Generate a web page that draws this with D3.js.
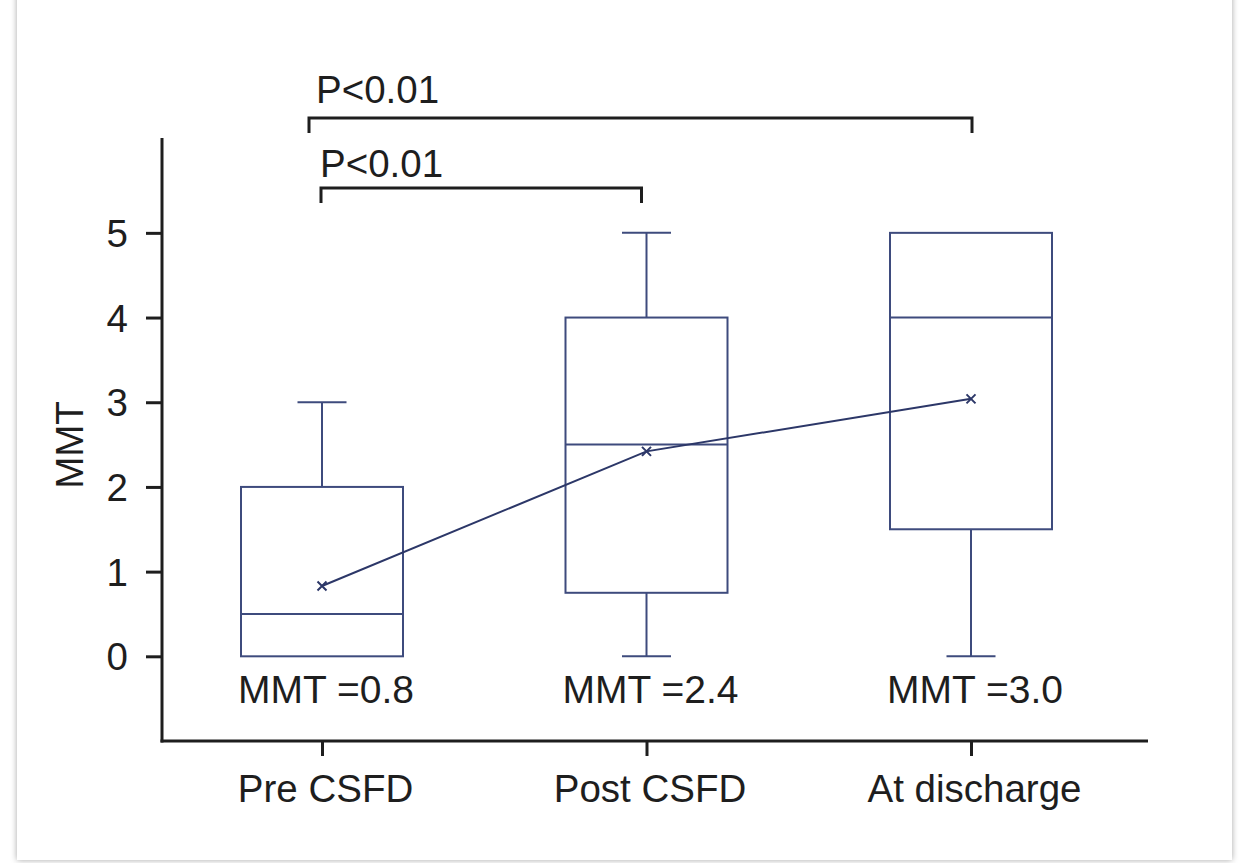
<!DOCTYPE html>
<html><head><meta charset="utf-8">
<script src="https://cdn.jsdelivr.net/npm/d3@7"></script>
<style>
html,body{margin:0;padding:0;background:#fff;}
svg{display:block;}
text{font-family:"Liberation Sans",Arial,Helvetica,sans-serif;fill:#1e1e1e;}
</style></head>
<body>
<svg id="chart" width="1243" height="863"></svg>
<script>
const categories = ["Pre CSFD", "Post CSFD", "At discharge"];
const mins    = [0, 0, 0];
const q1s     = [0, 0.75, 1.5];
const medians = [0.5, 2.5, 4];
const q3s     = [2, 4, 5];
const maxs    = [3, 5, 5];
const means   = [0.83, 2.42, 3.04];
const meanLabels = ["MMT =0.8", "MMT =2.4", "MMT =3.0"];
const yTicks = [0, 1, 2, 3, 4, 5];
const brackets = [
  {from: 0, to: 2, level: 6.356, label: "P<0.01", offL: -13, offR: 1, tdx: 7, tdy: -15},
  {from: 0, to: 1, level: 5.53, label: "P<0.01", offL: -1, offR: -5, tdx: -1, tdy: -11}
];

const svg = d3.select("#chart");
const defs = svg.append("defs");
const f = defs.append("filter").attr("id","sh").attr("x","-5%").attr("y","-5%").attr("width","110%").attr("height","110%");
f.append("feDropShadow").attr("dx",0).attr("dy",0).attr("stdDeviation",3).attr("flood-color","#000").attr("flood-opacity",0.35);
svg.append("rect").attr("x",17).attr("y",-10).attr("width",1215).attr("height",870).attr("fill","#fff").attr("filter","url(#sh)");

const x = d3.scalePoint().domain(categories).range([322, 971]);
const y = d3.scaleLinear().domain([-1, 6.12]).range([741, 138]);
const boxColor = "#3e4b7d";
const lineColor = "#2c3768";
const axisColor = "#1e1e1e";
const boxHalf = 81, capHalf = 24.5;
const fs = 38.5;

const data = categories.map((c,i)=>({c, min:mins[i], q1:q1s[i], med:medians[i], q3:q3s[i], max:maxs[i], mean:means[i], lab:meanLabels[i]}));

// y axis
const yAxis = d3.axisLeft(y).tickValues(yTicks).tickSize(16).tickPadding(18).tickFormat(d3.format("d"));
const gy = svg.append("g").attr("transform","translate(162,0)").call(yAxis);
gy.select(".domain").remove();
gy.selectAll(".tick line").attr("stroke",axisColor).attr("stroke-width",3);
gy.selectAll(".tick text").attr("font-size",fs).attr("fill","#1e1e1e").attr("font-family","Liberation Sans, Arial, sans-serif").attr("dy","0.35em");
svg.append("line").attr("x1",162).attr("x2",162).attr("y1",y(-1)+1.5).attr("y2",y(6.12)).attr("stroke",axisColor).attr("stroke-width",3);

// x axis
const xAxis = d3.axisBottom(x).tickSize(15).tickPadding(19);
const gx = svg.append("g").attr("transform",`translate(0,${y(-1)})`).call(xAxis);
gx.select(".domain").remove();
gx.selectAll(".tick line").attr("stroke",axisColor).attr("stroke-width",3);
gx.selectAll(".tick text").attr("font-size",fs).attr("fill","#1e1e1e").attr("font-family","Liberation Sans, Arial, sans-serif").attr("dx",3);
svg.append("line").attr("x1",160.5).attr("x2",1148).attr("y1",y(-1)).attr("y2",y(-1)).attr("stroke",axisColor).attr("stroke-width",3);

// y label
svg.append("text").attr("transform",`translate(83,${445}) rotate(-90)`).attr("text-anchor","middle").attr("font-size",fs).text("MMT");

// boxes
const g = svg.append("g");
data.forEach(d=>{
  const cx = x(d.c);
  if (d.max > d.q3) {
    g.append("line").attr("x1",cx).attr("x2",cx).attr("y1",y(d.q3)).attr("y2",y(d.max)).attr("stroke",boxColor).attr("stroke-width",2);
    g.append("line").attr("x1",cx-capHalf).attr("x2",cx+capHalf).attr("y1",y(d.max)).attr("y2",y(d.max)).attr("stroke",boxColor).attr("stroke-width",2);
  }
  if (d.min < d.q1) {
    g.append("line").attr("x1",cx).attr("x2",cx).attr("y1",y(d.q1)).attr("y2",y(d.min)).attr("stroke",boxColor).attr("stroke-width",2);
    g.append("line").attr("x1",cx-capHalf).attr("x2",cx+capHalf).attr("y1",y(d.min)).attr("y2",y(d.min)).attr("stroke",boxColor).attr("stroke-width",2);
  }
  g.append("rect").attr("x",cx-boxHalf).attr("y",y(d.q3)).attr("width",boxHalf*2).attr("height",y(d.q1)-y(d.q3))
    .attr("fill","none").attr("stroke",boxColor).attr("stroke-width",2);
  g.append("line").attr("x1",cx-boxHalf).attr("x2",cx+boxHalf).attr("y1",y(d.med)).attr("y2",y(d.med)).attr("stroke",boxColor).attr("stroke-width",2);
  g.append("text").attr("x",cx+4).attr("y",703).attr("text-anchor","middle").attr("font-size",fs+0.5).text(d.lab);
});

// mean line
const line = d3.line().x(d=>x(d.c)).y(d=>y(d.mean));
g.append("path").datum(data).attr("d",line).attr("fill","none").attr("stroke",lineColor).attr("stroke-width",2);
data.forEach(d=>{
  const cx = x(d.c), cy = y(d.mean), s = 4.5;
  g.append("path").attr("d",`M${cx-s},${cy-s}L${cx+s},${cy+s}M${cx-s},${cy+s}L${cx+s},${cy-s}`).attr("stroke",lineColor).attr("stroke-width",2);
});

// brackets
brackets.forEach(b=>{
  const x1 = x(categories[b.from]) + b.offL, x2 = x(categories[b.to]) + b.offR, yy = y(b.level);
  svg.append("path").attr("d",`M${x1},${yy+15}V${yy}H${x2}V${yy+15}`).attr("fill","none").attr("stroke",axisColor).attr("stroke-width",3);
  svg.append("text").attr("x",x1+b.tdx).attr("y",yy+b.tdy).attr("font-size",fs).text(b.label);
});
</script>
</body></html>
